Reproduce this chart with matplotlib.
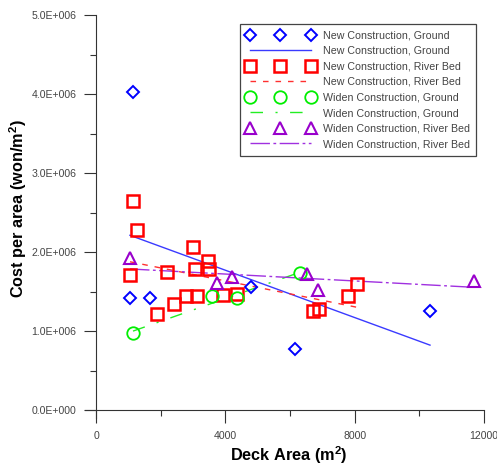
import numpy as np
import matplotlib
matplotlib.use("Agg")
import matplotlib.pyplot as plt
from matplotlib.ticker import FixedLocator, FixedFormatter

plt.rcParams['font.family'] = ['Liberation Sans', 'DejaVu Sans']
plt.rcParams['mathtext.fontset'] = 'custom'
plt.rcParams['mathtext.rm'] = 'Liberation Sans'
plt.rcParams['mathtext.bf'] = 'Liberation Sans:bold'

# ---- data (deck area m2, cost per area won/m2) ----
new_ground_x = [1144, 1050, 1670, 4794, 6155, 10330]
new_ground_y = [4.02e6, 1.42e6, 1.42e6, 1.56e6, 0.77e6, 1.26e6]

new_river_x = [1154, 1259, 3010, 3455, 3071, 3504, 1052, 2196, 2793,
               3133, 2403, 1887, 3919, 4361, 8073, 7804, 6703, 6888]
new_river_y = [2.64e6, 2.28e6, 2.07e6, 1.89e6, 1.78e6, 1.79e6, 1.71e6, 1.75e6, 1.45e6,
               1.44e6, 1.34e6, 1.22e6, 1.46e6, 1.47e6, 1.60e6, 1.45e6, 1.25e6, 1.28e6]

widen_ground_x = [1144, 3588, 4361, 6310]
widen_ground_y = [0.97e6, 1.44e6, 1.42e6, 1.73e6]

widen_river_x = [1052, 3752, 4197, 6517, 6867, 11701]
widen_river_y = [1.93e6, 1.61e6, 1.69e6, 1.72e6, 1.52e6, 1.64e6]

series_labels = ["New Construction, Ground", "New Construction, River Bed",
                 "Widen Construction, Ground", "Widen Construction, River Bed"]

x_ticks = [0, 4000, 8000, 12000]
x_tick_labels = ["0", "4000", "8000", "12000"]
y_ticks = [0, 1e6, 2e6, 3e6, 4e6, 5e6]
y_tick_labels = ["0.0E+000", "1.0E+006", "2.0E+006", "3.0E+006", "4.0E+006", "5.0E+006"]

# ---- styles ----
styles = [
    dict(marker='D', mc='#0000FF', ms=6.2, mew=1.4, lc='#3A3AFF', ls='-'),
    dict(marker='s', mc='#FF0000', ms=9.0, mew=1.8, lc='#FF3030', ls=(0, (4, 5))),
    dict(marker='o', mc='#00EE00', ms=9.0, mew=1.3, lc='#22EE22', ls=(0, (9, 9, 1.5, 9))),
    dict(marker='^', mc='#9900CC', ms=8.3, mew=1.5, lc='#A030E0', ls=(0, (14, 2.5, 2, 2.5))),
]
data = [(new_ground_x, new_ground_y), (new_river_x, new_river_y),
        (widen_ground_x, widen_ground_y), (widen_river_x, widen_river_y)]

fig = plt.figure(figsize=(4.97, 4.67), dpi=100)
ax = fig.add_axes([84.7 / 497, 1 - 418 / 467, 399.3 / 497, 403 / 467])

handles = []
labels = []
for (xs, ys), st, lab in zip(data, styles, series_labels):
    xs = np.asarray(xs, float)
    ys = np.asarray(ys, float)
    p = np.polyfit(xs, ys, 1)
    xl = np.array([xs.min(), xs.max()])
    ln, = ax.plot(xl, np.polyval(p, xl), color=st['lc'], lw=1.0, ls=st['ls'], zorder=2)
    mk, = ax.plot(xs, ys, ls='none', marker=st['marker'], ms=st['ms'], mew=st['mew'],
                  mfc='none', mec=st['mc'], zorder=3)
    handles += [mk, ln]
    labels += [lab, lab]

ax.set_xlim(-350, 12000)
ax.set_ylim(-0.1e6, 5e6)

for s in ['top', 'right']:
    ax.spines[s].set_visible(False)
ax.spines['left'].set_position(('data', 0))
ax.spines['bottom'].set_position(('data', 0))
for s in ['left', 'bottom']:
    ax.spines[s].set_color('#333333')
    ax.spines[s].set_linewidth(0.8)

ax.xaxis.set_major_locator(FixedLocator(x_ticks))
ax.xaxis.set_major_formatter(FixedFormatter(x_tick_labels))
ax.xaxis.set_minor_locator(FixedLocator([2000, 6000, 10000]))
ax.yaxis.set_major_locator(FixedLocator(y_ticks))
ax.yaxis.set_major_formatter(FixedFormatter(y_tick_labels))
ax.yaxis.set_minor_locator(FixedLocator([0.5e6, 1.5e6, 2.5e6, 3.5e6, 4.5e6]))

ax.tick_params(which='major', direction='out', length=9, width=0.8, color='#333333',
               labelsize=7.6, labelcolor='#444444')
ax.tick_params(which='minor', direction='out', length=4.5, width=0.8, color='#333333')
ax.tick_params(axis='x', which='major', pad=6)
ax.tick_params(axis='y', which='major', pad=5)

ax.set_xlabel("Deck Area (m$^\\mathbf{2}$)", fontsize=11.7, fontweight='bold', va='center')
ax.xaxis.set_label_coords(0.5117, -0.092)
ax.set_ylabel("Cost per area (won/m$^\\mathbf{2}$)", fontsize=11.7, fontweight='bold', va='center')
ax.yaxis.set_label_coords(-0.167, 0.5186)

leg = ax.legend(handles, labels, loc='upper right', bbox_to_anchor=(0.980, 0.978),
                borderaxespad=0, numpoints=3, handlelength=6.3, handletextpad=0.8,
                fontsize=7.7, labelspacing=0.52, borderpad=0.6, fancybox=False,
                framealpha=1, edgecolor='#444444', labelcolor='#444444')
leg.get_frame().set_linewidth(0.9)

fig.savefig("out.png", dpi=100)
